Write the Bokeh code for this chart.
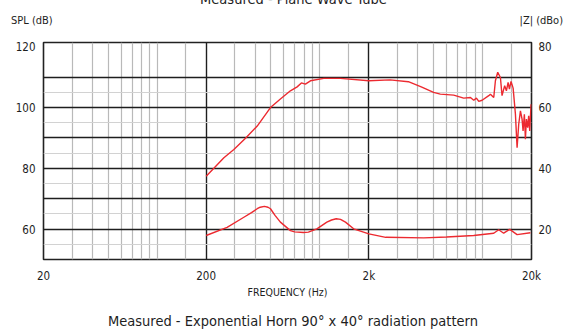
from bokeh.plotting import figure
from bokeh.models import FixedTicker, LinearAxis, Range1d, Div
from bokeh.layouts import column
from bokeh.embed import file_html
from bokeh.resources import INLINE

# ---- data ----
SPL_FREQ = [200, 223, 257, 296, 349, 412, 497, 572, 659, 725, 770, 815, 875, 1057, 1338,
            2000, 2700, 3500, 4200, 5000, 5500, 6650, 7660, 8430, 8830, 9170, 9480, 9940,
            10920, 11180, 11720, 12000, 12400, 12880, 13180, 13680, 14020, 14360, 14630,
            14970, 15420, 15930, 16310, 16690, 17100, 17500, 17750, 18080, 18350, 18610,
            18950, 19220, 19500, 19880]
SPL_DB = [77.4, 80.0, 83.5, 86.2, 89.9, 93.9, 100.0, 102.8, 105.5, 106.8, 108.1, 107.7, 108.8,
          109.6, 109.6, 108.8, 109.1, 108.5, 106.8, 105.0, 104.4, 104.1, 103.1, 103.3, 102.4,
          103.1, 102.0, 102.4, 103.9, 104.4, 103.3, 108.8, 111.6, 109.9, 103.9, 107.2, 105.5,
          108.3, 106.1, 108.6, 106.4, 97.8, 86.8, 94.5, 98.9, 96.2, 92.3, 97.8, 89.6, 96.2,
          93.4, 97.3, 92.3, 101.1]

Z_FREQ = [200, 269, 341, 380, 412, 430, 456, 480, 497, 530, 572, 659, 700, 792, 850, 959,
          1104, 1180, 1260, 1340, 1437, 1613, 2000, 2541, 4350, 6000, 8825, 11720, 12570,
          13490, 14690, 16310, 19690]
Z_DBO = [17.9, 20.6, 23.9, 25.4, 26.7, 27.2, 27.5, 27.2, 26.7, 24.5, 22.3, 19.5, 19.1, 18.9,
         19.0, 20.1, 22.3, 23.0, 23.4, 23.2, 22.3, 20.1, 18.45, 17.3, 17.1, 17.4, 17.9, 18.65,
         19.8, 18.65, 19.9, 18.2, 18.8]

X_TICKS = [20, 200, 2000, 20000]
X_LABELS = {20: "20", 200: "200", 2000: "2k", 20000: "20k"}
X_MINOR = [30, 40, 50, 60, 70, 80, 90, 100, 150,
           300, 400, 500, 600, 700, 800, 900, 1000, 1500,
           3000, 4000, 5000, 6000, 7000, 8000, 9000, 10000, 15000]
Y_TICKS = [60, 80, 100, 120]
Y_GRID = [60, 70, 80, 90, 100, 110]
Y_MINOR = [55, 65, 75, 85, 95, 105]
Z_TICKS = [20, 40, 60, 80]

TITLE_TOP = "Measured - Plane Wave Tube"
TITLE_BOTTOM = "Measured - Exponential Horn 90° x 40° radiation pattern"
LABEL_LEFT = "SPL (dB)"
LABEL_RIGHT = "|Z| (dBo)"

FONT = "DejaVu Sans Condensed"
RED = "#ec2a30"
INK = "#1e1e1e"
W = 564
TOP_H = 36
MAIN_H = 266
BOT_H = 30

BOX = ("position:relative;width:%dpx;height:%dpx;overflow:hidden;"
       "font-family:'%s';color:%s;white-space:nowrap;line-height:1;")

# ---- header strip (HTML text) ----
top_html = (
    '<div style="' + BOX % (W, TOP_H, FONT, INK) + '">'
    '<span style="position:absolute;left:0;width:587px;top:-7.8px;text-align:center;'
    'font-size:14.5px;">' + TITLE_TOP + '</span>'
    '<span style="position:absolute;left:11px;top:15.2px;font-size:11px;">'
    + LABEL_LEFT + '</span>'
    '<span style="position:absolute;right:1px;top:15.2px;font-size:11px;">'
    + LABEL_RIGHT + '</span>'
    '</div>')
top = Div(text=top_html, width=W, height=TOP_H, margin=0)

# ---- main chart ----
p = figure(width=W, height=MAIN_H, x_axis_type="log", x_range=(20, 20000),
           y_range=(50, 121.4), output_backend="svg", toolbar_location=None,
           min_border_left=43, min_border_right=33, min_border_top=6,
           min_border_bottom=43)
p.background_fill_color = "white"
p.border_fill_color = "white"
p.outline_line_color = "#222222"
p.outline_line_width = 1.6

p.extra_y_ranges = {"z": Range1d(10, 81.4)}
raxis = LinearAxis(y_range_name="z", ticker=FixedTicker(ticks=Z_TICKS))
p.add_layout(raxis, "right")

xg = p.xgrid[0]
xg.ticker = FixedTicker(ticks=X_TICKS, minor_ticks=X_MINOR)
xg.grid_line_color = INK
xg.grid_line_width = 1.4
xg.minor_grid_line_color = "#b9b9b9"
xg.minor_grid_line_width = 1.2

yg = p.ygrid[0]
yg.ticker = FixedTicker(ticks=Y_GRID, minor_ticks=Y_MINOR)
yg.grid_line_color = INK
yg.grid_line_width = 1.3
yg.minor_grid_line_color = "#d2d2d2"
yg.minor_grid_line_width = 1.2

p.xaxis.ticker = FixedTicker(ticks=X_TICKS)
p.xaxis.major_label_overrides = X_LABELS
p.yaxis[0].ticker = FixedTicker(ticks=Y_TICKS)
for ax in p.axis:
    ax.axis_line_color = None
    ax.major_tick_line_color = None
    ax.minor_tick_line_color = None
    ax.major_tick_out = 0
    ax.major_tick_in = 0
    ax.minor_tick_out = 0
    ax.minor_tick_in = 0
    ax.major_label_text_font = FONT
    ax.major_label_text_font_size = "11.5px"
    ax.major_label_text_color = INK
p.xaxis.major_label_standoff = 9
p.yaxis[0].major_label_standoff = 8
raxis.major_label_standoff = 7

p.xaxis.axis_label = "FREQUENCY (Hz)"
p.xaxis.axis_label_text_font = FONT
p.xaxis.axis_label_text_font_style = "normal"
p.xaxis.axis_label_text_font_size = "10.5px"
p.xaxis.axis_label_text_color = INK
p.xaxis.axis_label_standoff = 0

p.line(SPL_FREQ, SPL_DB, line_color=RED, line_width=1.4)
p.line(Z_FREQ, Z_DBO, line_color=RED, line_width=1.4, y_range_name="z")

# ---- caption strip (HTML text) ----
bot_html = (
    '<div style="' + BOX % (W, BOT_H, FONT, INK) + '">'
    '<span style="position:absolute;left:0;width:586px;top:12px;text-align:center;'
    'font-size:14.5px;">' + TITLE_BOTTOM + '</span>'
    '</div>')
bot = Div(text=bot_html, width=W, height=BOT_H, margin=0)

layout = column(top, p, bot, spacing=0)
open("out.html", "w").write(file_html(layout, INLINE))
